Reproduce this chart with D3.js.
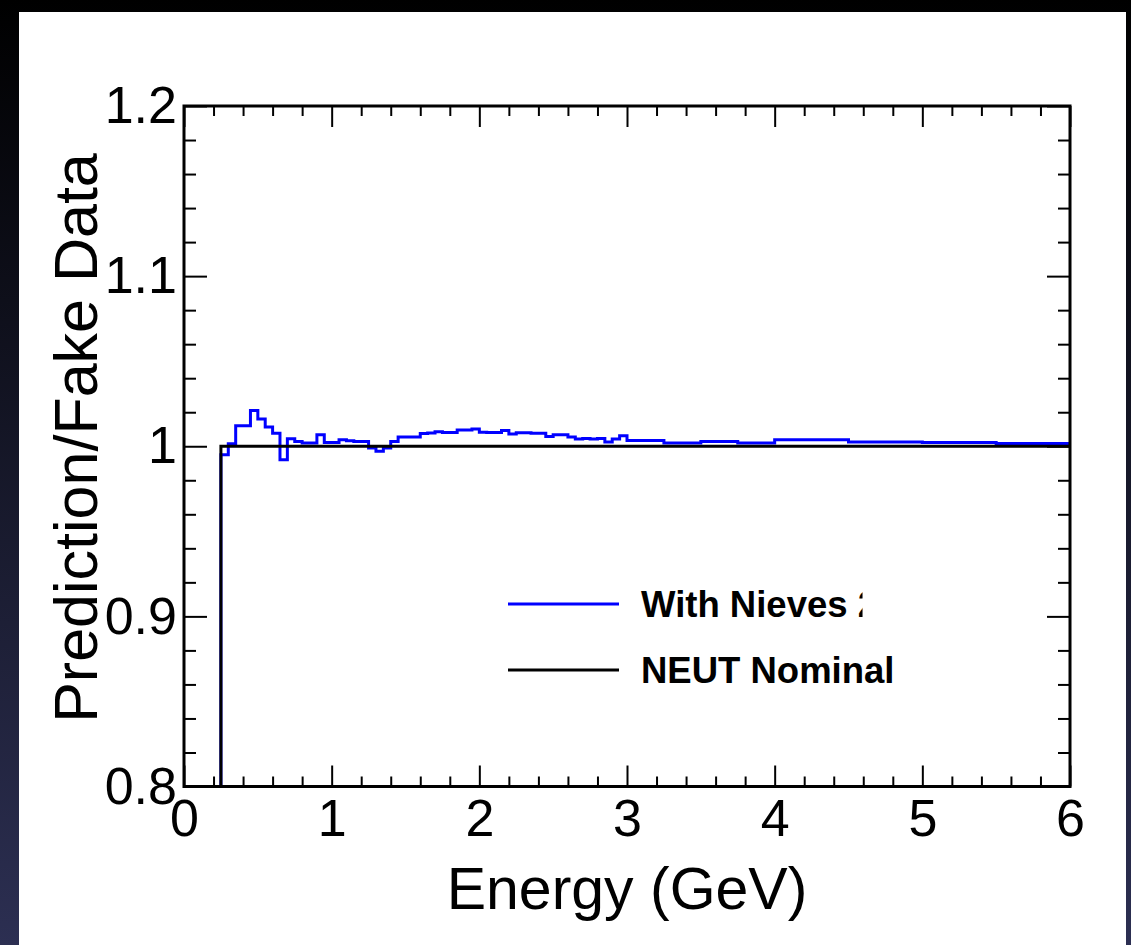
<!DOCTYPE html>
<html>
<head>
<meta charset="utf-8">
<script src="https://cdn.jsdelivr.net/npm/d3@7"></script>
<style>
  html, body { margin: 0; padding: 0; background: #000; }
  svg { display: block; }
  text { font-family: "Liberation Sans", Arial, Helvetica, sans-serif; fill: #000; }
</style>
</head>
<body>
<svg width="1131" height="945"></svg>
<script>
// bin edges in GeV
const binEdges = [
  0.00, 0.05, 0.10, 0.15, 0.20, 0.25, 0.30, 0.35, 0.40, 0.45,
  0.50, 0.55, 0.60, 0.65, 0.70, 0.75, 0.80, 0.85, 0.90, 0.95,
  1.00, 1.05, 1.10, 1.15, 1.20, 1.25, 1.30, 1.35, 1.40, 1.45,
  1.50, 1.55, 1.60, 1.65, 1.70, 1.75, 1.80, 1.85, 1.90, 1.95,
  2.00, 2.05, 2.10, 2.15, 2.20, 2.25, 2.30, 2.35, 2.40, 2.45,
  2.50, 2.55, 2.60, 2.65, 2.70, 2.75, 2.80, 2.85, 2.90, 2.95,
  3.00, 3.25, 3.50, 3.75, 4.00, 4.50, 5.00, 5.50, 6.00
];

// ratio with Nieves 2p2h, one value per bin
const nievesRatio = [
  0, 0, 0, 0, 0, 0.995, 1.0015, 1.012, 1.012, 1.021,
  1.016, 1.0113, 1.0077, 0.992, 1.0044, 1.0028, 1.0019, 1.0019, 1.0067, 1.0022,
  1.0022, 1.0038, 1.0032, 1.0028, 1.0028, 0.999, 0.997, 0.999, 1.0028, 1.0054,
  1.0054, 1.0054, 1.0075, 1.0078, 1.0085, 1.0081, 1.0081, 1.0095, 1.0095, 1.0101,
  1.0083, 1.0081, 1.0081, 1.0093, 1.0072, 1.008, 1.008, 1.0077, 1.0077, 1.0058,
  1.0067, 1.0067, 1.0054, 1.0042, 1.0045, 1.0042, 1.0046, 1.0025, 1.0042, 1.0062,
  1.0034, 1.0019, 1.0028, 1.0019, 1.0038, 1.0025, 1.0022, 1.0016
];

// NEUT nominal ratio
const nominalRatio = [
  0, 0, 0, 0, 0, 1, 1, 1, 1, 1,
  1, 1, 1, 1, 1, 1, 1, 1, 1, 1,
  1, 1, 1, 1, 1, 1, 1, 1, 1, 1,
  1, 1, 1, 1, 1, 1, 1, 1, 1, 1,
  1, 1, 1, 1, 1, 1, 1, 1, 1, 1,
  1, 1, 1, 1, 1, 1, 1, 1, 1, 1,
  1, 1, 1, 1, 1, 1, 1, 1
];

const xMajor = [0, 1, 2, 3, 4, 5, 6];
const xMajorLabels = ["0", "1", "2", "3", "4", "5", "6"];
const yMajor = [0.8, 0.9, 1.0, 1.1, 1.2];
const yMajorLabels = ["0.8", "0.9", "1", "1.1", "1.2"];
const xMinor = [0.2, 0.4, 0.6, 0.8, 1.2, 1.4, 1.6, 1.8, 2.2, 2.4, 2.6, 2.8,
  3.2, 3.4, 3.6, 3.8, 4.2, 4.4, 4.6, 4.8, 5.2, 5.4, 5.6, 5.8];
const yMinor = [0.82, 0.84, 0.86, 0.88, 0.92, 0.94, 0.96, 0.98,
  1.02, 1.04, 1.06, 1.08, 1.12, 1.14, 1.16, 1.18];

const legendLabels = ["With Nieves 2p2h", "NEUT Nominal"];
const seriesColors = ["#0000ff", "#000000"];

const svg = d3.select("svg");
const W = +svg.attr("width");
const H = +svg.attr("height");

const pLeft = 184, pRight = 1070, pTop = 106, pBottom = 786.5;

const x = d3.scaleLinear().domain([0, 6]).range([pLeft, pRight]);
const y = d3.scaleLinear().domain([0.8, 1.2]).range([pBottom, pTop]);

// slide background
const defs = svg.append("defs");
const bg = defs.append("linearGradient")
  .attr("id", "bg").attr("x1", "0%").attr("x2", "0%").attr("y1", "0%").attr("y2", "100%");
bg.append("stop").attr("offset", "0%").attr("stop-color", "#000000");
bg.append("stop").attr("offset", "100%").attr("stop-color", "#2c2f52");

svg.append("rect").attr("width", W).attr("height", H).attr("fill", "url(#bg)");
svg.append("rect").attr("x", 19).attr("y", 12).attr("width", 1107).attr("height", H - 12).attr("fill", "#fff");

defs.append("clipPath").attr("id", "plotClip")
  .append("rect").attr("x", pLeft).attr("y", pTop).attr("width", pRight - pLeft).attr("height", pBottom - pTop);

// step path for a histogram
function stepPath(vals) {
  const clamp = v => Math.max(0.8, Math.min(1.2, v));
  let d = "";
  vals.forEach((v, i) => {
    const x0 = x(binEdges[i]), x1 = x(binEdges[i + 1]), yy = y(clamp(v));
    d += (i === 0 ? "M" : "L") + x0 + "," + yy + "L" + x1 + "," + yy;
  });
  return d;
}

const plot = svg.append("g").attr("clip-path", "url(#plotClip)");
[nievesRatio, nominalRatio].forEach((vals, i) => {
  plot.append("path")
    .attr("d", stepPath(vals))
    .attr("fill", "none")
    .attr("stroke", seriesColors[i])
    .attr("stroke-width", 3);
});

// axes with inward ticks
function styleAxis(g) {
  g.select(".domain").remove();
  g.selectAll(".tick line").attr("stroke", "#000").attr("stroke-width", 2);
  g.selectAll(".tick text").style("font-size", "52px").attr("fill", "#000");
}

svg.append("g").attr("transform", `translate(0,${pBottom})`)
  .call(d3.axisBottom(x).tickValues(xMajor).tickFormat((d, i) => xMajorLabels[i])
    .tickSizeInner(-21).tickSizeOuter(0).tickPadding(13))
  .call(styleAxis);
svg.append("g").attr("transform", `translate(0,${pBottom})`)
  .call(d3.axisBottom(x).tickValues(xMinor).tickFormat("").tickSizeInner(-10).tickSizeOuter(0))
  .call(styleAxis);
svg.append("g").attr("transform", `translate(0,${pTop})`)
  .call(d3.axisTop(x).tickValues(xMajor).tickFormat("").tickSizeInner(-21).tickSizeOuter(0))
  .call(styleAxis);
svg.append("g").attr("transform", `translate(0,${pTop})`)
  .call(d3.axisTop(x).tickValues(xMinor).tickFormat("").tickSizeInner(-10).tickSizeOuter(0))
  .call(styleAxis);

svg.append("g").attr("transform", `translate(${pLeft},0)`)
  .call(d3.axisLeft(y).tickValues(yMajor).tickFormat((d, i) => yMajorLabels[i])
    .tickSizeInner(-23).tickSizeOuter(0).tickPadding(7))
  .call(styleAxis);
svg.append("g").attr("transform", `translate(${pLeft},0)`)
  .call(d3.axisLeft(y).tickValues(yMinor).tickFormat("").tickSizeInner(-12).tickSizeOuter(0))
  .call(styleAxis);
svg.append("g").attr("transform", `translate(${pRight},0)`)
  .call(d3.axisRight(y).tickValues(yMajor).tickFormat("").tickSizeInner(-23).tickSizeOuter(0))
  .call(styleAxis);
svg.append("g").attr("transform", `translate(${pRight},0)`)
  .call(d3.axisRight(y).tickValues(yMinor).tickFormat("").tickSizeInner(-12).tickSizeOuter(0))
  .call(styleAxis);

// frame
svg.append("rect")
  .attr("x", pLeft).attr("y", pTop).attr("width", pRight - pLeft).attr("height", pBottom - pTop)
  .attr("fill", "none").attr("stroke", "#000").attr("stroke-width", 3);

// axis titles
svg.append("text")
  .attr("x", 627).attr("y", 909)
  .attr("text-anchor", "middle")
  .style("font-size", "59px")
  .text("Energy (GeV)");

svg.append("text")
  .attr("transform", "translate(97,438) rotate(-90)")
  .attr("text-anchor", "middle")
  .style("font-size", "61px")
  .text("Prediction/Fake Data");

// legend (first label is cut by the legend box edge)
defs.append("clipPath").attr("id", "legClip")
  .append("rect").attr("x", 500).attr("y", 560).attr("width", 362.5).attr("height", 70);
const leg = svg.append("g");
const legY = [604, 670];
legendLabels.forEach((lab, i) => {
  leg.append("line")
    .attr("x1", 508).attr("x2", 619).attr("y1", legY[i]).attr("y2", legY[i])
    .attr("stroke", seriesColors[i]).attr("stroke-width", 3);
  leg.append("text")
    .attr("x", 641).attr("y", legY[i] + 13)
    .attr("clip-path", i === 0 ? "url(#legClip)" : null)
    .style("font-size", "36.5px").style("font-weight", "bold")
    .text(lab);
});
</script>
</body>
</html>
